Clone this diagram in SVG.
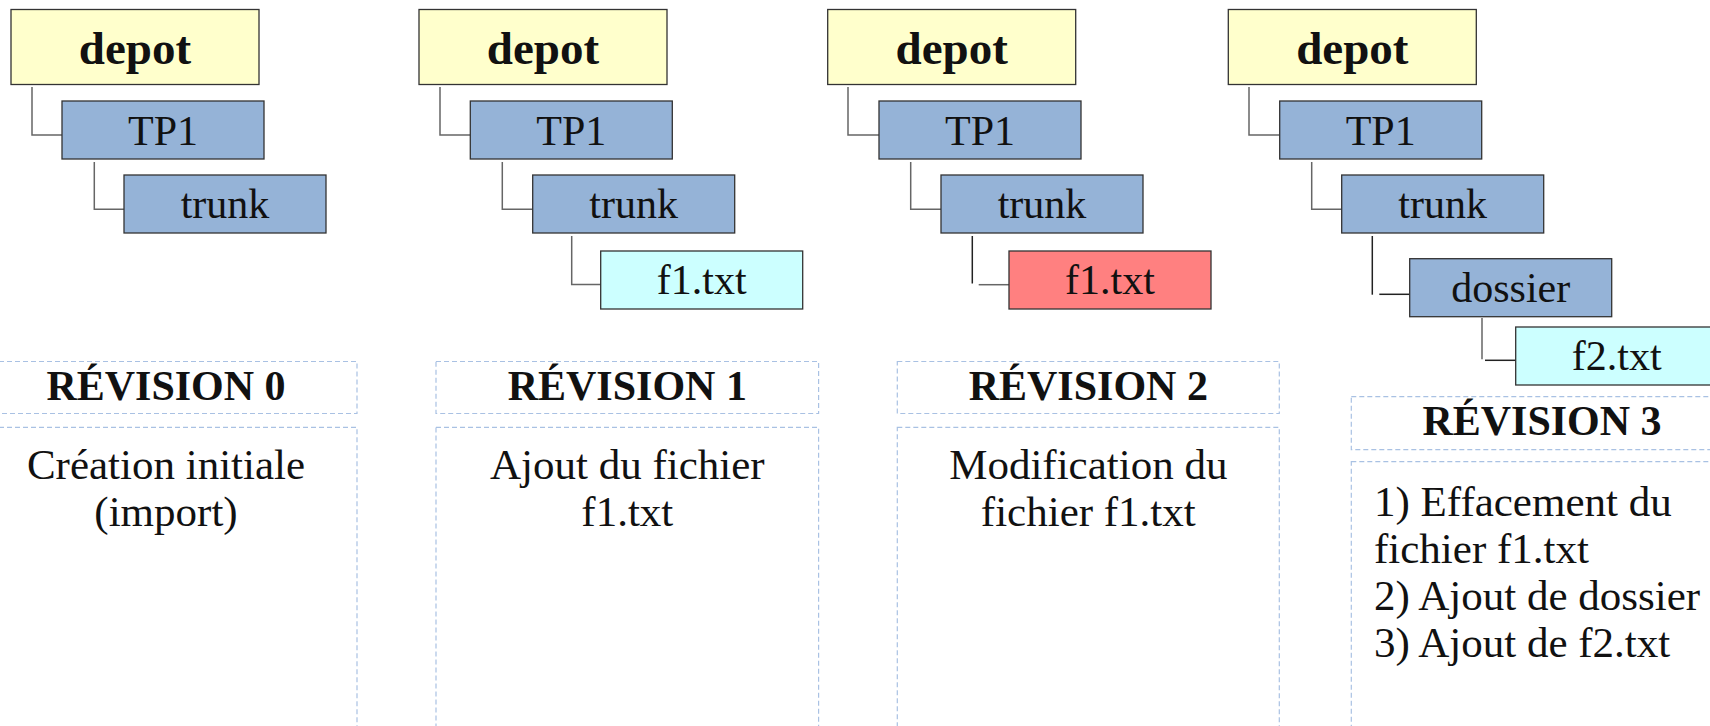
<svg xmlns="http://www.w3.org/2000/svg" width="1710" height="726" viewBox="0 0 1710 726">
<style>
.box{stroke:#333;stroke-width:1.3}
.depot{fill:#ffffcc}
.dir{fill:#95b3d7}
.new{fill:#ccffff}
.mod{fill:#ff8080}
.lbl{font-family:"Liberation Serif",serif;font-size:42px;fill:#111;text-anchor:middle}
.big{font-family:"Liberation Serif",serif;font-size:47px;font-weight:bold;fill:#111;text-anchor:middle}
.hdr{font-family:"Liberation Serif",serif;font-size:42px;font-weight:bold;fill:#111;text-anchor:middle}
.desc{font-family:"Liberation Serif",serif;font-size:43px;fill:#111}
.dash{fill:none;stroke:#a9c1e3;stroke-width:1.2;stroke-dasharray:5 3}
.con{fill:none;stroke:#666;stroke-width:1.5}
.con2{fill:none;stroke:#222;stroke-width:1.5}
</style>
<rect width="1710" height="726" fill="#fff"/>
<g id="connectors">
<path class="con" d="M32 87V135H62"/>
<path class="con" d="M94.3 162V209.3H124"/>
<path class="con" d="M440 87V135H470"/>
<path class="con" d="M502.3 162V209.3H533"/>
<path class="con" d="M571.7 236V284.5H601"/>
<path class="con" d="M848 87V135H879"/>
<path class="con" d="M910.7 162V209.3H941"/>
<path class="con2" d="M972.3 236V283.5"/>
<path class="con" d="M978.7 284.7H1009"/>
<path class="con" d="M1249 87V135H1280"/>
<path class="con" d="M1311.7 162V209.3H1342"/>
<path class="con2" d="M1372.3 236V294.7"/>
<path class="con2" d="M1379.3 294.3H1410"/>
<path class="con" d="M1482 318V359.3"/>
<path class="con2" d="M1485 360.3H1516"/>
</g>
<g id="rev0">
<g id="r0-depot"><rect class="box depot" x="11" y="9.5" width="248" height="75"/><text class="big" x="135" y="64">depot</text></g>
<g id="r0-tp1"><rect class="box dir" x="62" y="101" width="202" height="58"/><text class="lbl" x="163" y="145">TP1</text></g>
<g id="r0-trunk"><rect class="box dir" x="124" y="175" width="202" height="58"/><text class="lbl" x="225" y="218.3">trunk</text></g>
<g id="r0-header"><rect class="dash" x="-25" y="361.5" width="382" height="52"/><text class="hdr" x="166" y="400">RÉVISION 0</text></g>
<g id="r0-desc"><rect class="dash" x="-25" y="427.3" width="382" height="320"/>
<text class="desc" text-anchor="middle" x="166" y="479">Création initiale</text>
<text class="desc" text-anchor="middle" x="166" y="526">(import)</text></g>
</g>
<g id="rev1">
<g id="r1-depot"><rect class="box depot" x="419" y="9.5" width="248" height="75"/><text class="big" x="543" y="64">depot</text></g>
<g id="r1-tp1"><rect class="box dir" x="470.3" y="101" width="202" height="58"/><text class="lbl" x="571.3" y="145">TP1</text></g>
<g id="r1-trunk"><rect class="box dir" x="532.7" y="175" width="202" height="58"/><text class="lbl" x="633.7" y="218.3">trunk</text></g>
<g id="r1-f1"><rect class="box new" x="600.7" y="251" width="202" height="58"/><text class="lbl" x="701.7" y="294.3">f1.txt</text></g>
<g id="r1-header"><rect class="dash" x="436" y="361.5" width="382.6" height="52"/><text class="hdr" x="627.3" y="400">RÉVISION 1</text></g>
<g id="r1-desc"><rect class="dash" x="436" y="427.3" width="382.6" height="320"/>
<text class="desc" text-anchor="middle" x="627.3" y="479">Ajout du fichier</text>
<text class="desc" text-anchor="middle" x="627.3" y="526">f1.txt</text></g>
</g>
<g id="rev2">
<g id="r2-depot"><rect class="box depot" x="827.7" y="9.5" width="248" height="75"/><text class="big" x="951.7" y="64">depot</text></g>
<g id="r2-tp1"><rect class="box dir" x="879" y="101" width="202" height="58"/><text class="lbl" x="980" y="145">TP1</text></g>
<g id="r2-trunk"><rect class="box dir" x="941" y="175" width="202" height="58"/><text class="lbl" x="1042" y="218.3">trunk</text></g>
<g id="r2-f1"><rect class="box mod" x="1009" y="251" width="202" height="58"/><text class="lbl" x="1110" y="294.3">f1.txt</text></g>
<g id="r2-header"><rect class="dash" x="897.3" y="361.5" width="382" height="52"/><text class="hdr" x="1088.3" y="400">RÉVISION 2</text></g>
<g id="r2-desc"><rect class="dash" x="897.3" y="427.3" width="382" height="320"/>
<text class="desc" text-anchor="middle" x="1088.3" y="479">Modification du</text>
<text class="desc" text-anchor="middle" x="1088.3" y="526">fichier f1.txt</text></g>
</g>
<g id="rev3">
<g id="r3-depot"><rect class="box depot" x="1228.3" y="9.5" width="248" height="75"/><text class="big" x="1352.3" y="64">depot</text></g>
<g id="r3-tp1"><rect class="box dir" x="1279.7" y="101" width="202" height="58"/><text class="lbl" x="1380.7" y="145">TP1</text></g>
<g id="r3-trunk"><rect class="box dir" x="1341.7" y="175" width="202" height="58"/><text class="lbl" x="1442.7" y="218.3">trunk</text></g>
<g id="r3-dossier"><rect class="box dir" x="1409.7" y="258.7" width="202" height="58"/><text class="lbl" x="1510.7" y="301.7">dossier</text></g>
<g id="r3-f2"><rect class="box new" x="1515.7" y="327" width="202" height="58"/><text class="lbl" x="1616.7" y="370">f2.txt</text></g>
<g id="r3-header"><rect class="dash" x="1351.3" y="396.7" width="382" height="53"/><text class="hdr" x="1542" y="434.5">RÉVISION 3</text></g>
<g id="r3-desc"><rect class="dash" x="1351.3" y="461.7" width="382" height="300"/>
<text class="desc" x="1374" y="515.7">1) Effacement du</text>
<text class="desc" x="1374" y="563">fichier f1.txt</text>
<text class="desc" x="1374" y="610">2) Ajout de dossier</text>
<text class="desc" x="1374" y="657">3) Ajout de f2.txt</text></g>
</g>
</svg>
